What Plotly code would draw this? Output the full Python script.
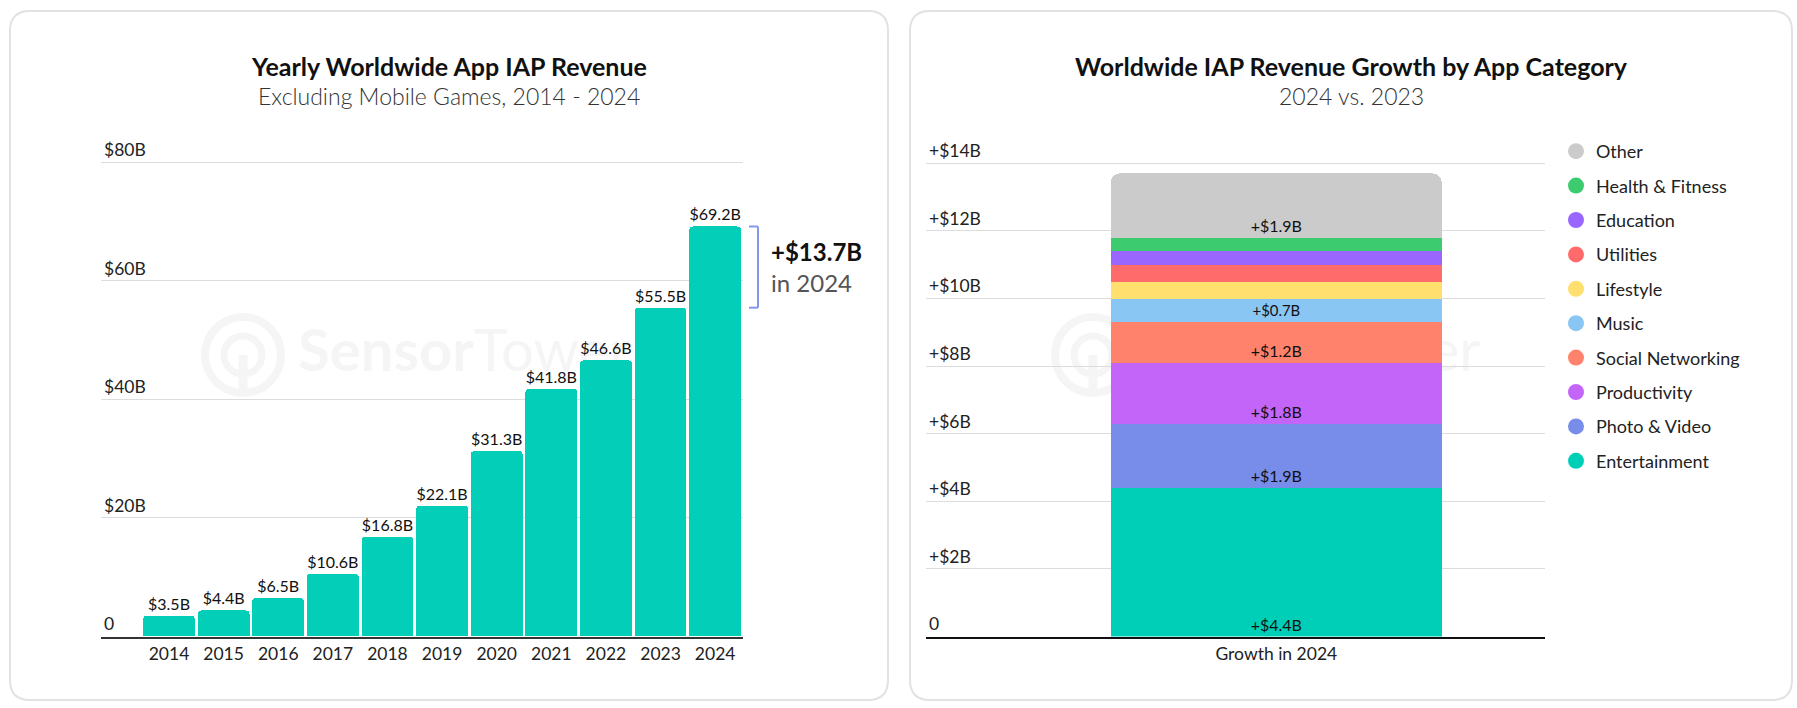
import plotly.graph_objects as go

W, H = 1797, 708
FONT = "Lato"

# ---------------- data ----------------
years = ["2014", "2015", "2016", "2017", "2018", "2019", "2020", "2021", "2022", "2023", "2024"]
revenue = [3.5, 4.4, 6.5, 10.6, 16.8, 22.1, 31.3, 41.8, 46.6, 55.5, 69.2]
left_tickvals = [0, 20, 40, 60, 80]
left_ticktext = ["0", "$20B", "$40B", "$60B", "$80B"]

categories = ["Entertainment", "Photo & Video", "Productivity", "Social Networking", "Music",
              "Lifestyle", "Utilities", "Education", "Health & Fitness", "Other"]
growth = [4.4, 1.9, 1.8, 1.2, 0.7, 0.5, 0.5, 0.4, 0.4, 1.9]
growth_shown = [True, True, True, True, True, False, False, False, False, True]
cat_colors = ["#00CFB8", "#788CE9", "#C465F9", "#FF826C", "#89C6F3",
              "#FFDF6E", "#FF6B6B", "#9966FF", "#3CCB6E", "#CBCBCB"]
right_category = ["Growth in 2024"]
right_tickvals = [0, 2, 4, 6, 8, 10, 12, 14]
right_ticktext = ["0", "+$2B", "+$4B", "+$6B", "+$8B", "+$10B", "+$12B", "+$14B"]


def px(x):
    return x / W


def py(y):
    return 1 - y / H


fig = go.Figure()

# ---------------- watermark (background subplot) ----------------
for tx in (298, 1148):
    fig.add_trace(go.Scatter(
        x=[tx], y=[356], mode="text", text=["<b>Sensor</b>Tower"],
        textposition="middle right", textfont=dict(family=FONT, size=58, color="#F5F5F5"),
        xaxis="x", yaxis="y", showlegend=False, hoverinfo="skip"))

# ---------------- left chart ----------------
fig.add_trace(go.Bar(
    x=years, y=revenue, xaxis="x2", yaxis="y2",
    marker=dict(color="#03CFB9", cornerradius=4, line=dict(width=0)),
    width=0.95,
    text=[f"${v}B" for v in revenue], textposition="outside",
    textfont=dict(family=FONT, size=16, color="#111111"),
    cliponaxis=False, showlegend=False, hoverinfo="skip"))

# ---------------- right chart ----------------
for cat, val, shown, col in zip(categories, growth, growth_shown, cat_colors):
    fig.add_trace(go.Bar(
        x=right_category, y=[val], xaxis="x3", yaxis="y3", name=cat,
        marker=dict(color=col, cornerradius=9, line=dict(width=0)),
        width=0.6,
        text=[f"+${val}B" if shown else ""], textposition="inside",
        insidetextanchor="start", textangle=0,
        insidetextfont=dict(family=FONT, size=16, color="#111111"),
        showlegend=False, hoverinfo="skip"))

# legend entries with round markers (top: Other)
for cat, col in zip(categories[::-1], cat_colors[::-1]):
    fig.add_trace(go.Scatter(
        x=[None], y=[None], mode="markers", name=cat, legendgroup=cat,
        marker=dict(symbol="circle", size=16, color=col),
        xaxis="x3", yaxis="y3", showlegend=True))

# ---------------- panel boxes & logos ----------------
def rounded_rect(x0, y0, x1, y1, r):
    kx, ky = r / W, r / H
    X0, X1, Y0, Y1 = px(x0), px(x1), py(y1), py(y0)  # Y0 bottom, Y1 top
    return (f"M{X0 + kx},{Y1} L{X1 - kx},{Y1} Q{X1},{Y1} {X1},{Y1 - ky} "
            f"L{X1},{Y0 + ky} Q{X1},{Y0} {X1 - kx},{Y0} L{X0 + kx},{Y0} "
            f"Q{X0},{Y0} {X0},{Y0 + ky} L{X0},{Y1 - ky} Q{X0},{Y1} {X0 + kx},{Y1} Z")


shapes = []
for (x0, x1) in ((10, 888), (910, 1792)):
    shapes.append(dict(type="path", path=rounded_rect(x0, 11, x1, 700, 20),
                       xref="paper", yref="paper", line=dict(color="#E2E2E2", width=2),
                       fillcolor="white", layer="below"))

for cx in (243, 1093):
    cy = 355
    shapes.append(dict(type="circle", xref="paper", yref="paper", layer="below",
                       x0=px(cx - 38), x1=px(cx + 38), y0=py(cy + 38), y1=py(cy - 38),
                       line=dict(color="#F5F5F5", width=8)))
    shapes.append(dict(type="circle", xref="paper", yref="paper", layer="below",
                       x0=px(cx - 19), x1=px(cx + 19), y0=py(cy + 19), y1=py(cy - 19),
                       line=dict(color="#F5F5F5", width=7)))
    shapes.append(dict(type="line", xref="paper", yref="paper", layer="below",
                       x0=px(cx), x1=px(cx), y0=py(cy), y1=py(cy + 36),
                       line=dict(color="#F5F5F5", width=9)))

# bracket for 2024 growth
br_top, br_bot = revenue[-1], revenue[-2]
bx_in, bx_out = px(749), px(758)
shapes += [
    dict(type="line", xref="paper", yref="y2", x0=bx_out, x1=bx_out, y0=br_bot, y1=br_top,
         line=dict(color="#8497EE", width=2)),
    dict(type="line", xref="paper", yref="y2", x0=bx_in, x1=bx_out, y0=br_top, y1=br_top,
         line=dict(color="#8497EE", width=2)),
    dict(type="line", xref="paper", yref="y2", x0=bx_in, x1=bx_out, y0=br_bot, y1=br_bot,
         line=dict(color="#8497EE", width=2)),
]

growth_2024 = round(br_top - br_bot, 1)

annotations = [
    dict(text="<b>Yearly Worldwide App IAP Revenue</b>", x=px(449), y=py(66),
         font=dict(family=FONT, size=25, color="#111111")),
    dict(text="Excluding Mobile Games, 2014 - 2024", x=px(449), y=py(96),
         font=dict(family=FONT, size=23, color="#333333", weight=300)),
    dict(text="<b>Worldwide IAP Revenue Growth by App Category</b>", x=px(1351), y=py(66),
         font=dict(family=FONT, size=25, color="#111111")),
    dict(text="2024 vs. 2023", x=px(1351), y=py(96),
         font=dict(family=FONT, size=23, color="#333333", weight=300)),
    dict(text=f"<b>+${growth_2024}B</b><br><span style='color:#555555'>in {years[-1]}</span>",
         x=px(769), xanchor="left", yref="y2", y=(br_top + br_bot) / 2, yanchor="middle",
         align="left", font=dict(family=FONT, size=24, color="#111111")),
]
for a in annotations:
    a.setdefault("xref", "paper")
    a.setdefault("yref", "paper")
    a.setdefault("xanchor", "center")
    a.setdefault("yanchor", "middle")
    a["showarrow"] = False

base0 = 636.5
lppb = 5.925   # px per billion (left)
rppb = 33.8    # px per billion (right)
ltop, rtop = 84.5, 14.75

tickfont = dict(family=FONT, size=17.5, color="#222222")

fig.update_layout(
    width=W, height=H, margin=dict(l=0, r=0, t=0, b=0),
    paper_bgcolor="white", plot_bgcolor="rgba(0,0,0,0)",
    barmode="stack",
    font=dict(family=FONT, color="#222222"),
    xaxis=dict(domain=[0, 1], range=[0, W], visible=False, fixedrange=True),
    yaxis=dict(domain=[0, 1], range=[H, 0], visible=False, fixedrange=True),
    xaxis2=dict(domain=[px(101), px(743)], anchor="y2", type="category",
                range=[-1.245, 10.51], showgrid=False, showline=True,
                linecolor="#333333", linewidth=2.5, ticks="",
                tickfont=dict(family=FONT, size=17.5, color="#222222")),
    yaxis2=dict(domain=[py(base0), py(base0 - ltop * lppb)], anchor="x2", range=[0, ltop],
                tickvals=left_tickvals, ticktext=left_ticktext, ticklabelposition="inside top",
                showgrid=True, gridcolor="#DCDCDC", gridwidth=1, zeroline=False,
                showline=False, ticks="", tickfont=tickfont),
    xaxis3=dict(domain=[px(926), px(1545)], anchor="y3", type="category",
                range=[-0.635, 0.487], showgrid=False, showline=True,
                linecolor="#111111", linewidth=2.5, ticks="",
                tickfont=dict(family=FONT, size=17.5, color="#222222")),
    yaxis3=dict(domain=[py(base0), py(base0 - rtop * rppb)], anchor="x3", range=[0, rtop],
                tickvals=right_tickvals, ticktext=right_ticktext, ticklabelposition="inside top",
                showgrid=True, gridcolor="#DCDCDC", gridwidth=1, zeroline=False,
                showline=False, ticks="", tickfont=tickfont),
    legend=dict(x=px(1556), y=py(133), xanchor="left", yanchor="top",
                font=dict(family=FONT, size=18, color="#222222"),
                traceorder="grouped", tracegroupgap=8, bgcolor="rgba(0,0,0,0)",
                itemclick=False, itemdoubleclick=False),
    shapes=shapes,
    annotations=annotations,
    showlegend=True,
)

fig.write_html(
    "out.html",
    config={"displayModeBar": False, "staticPlot": True},
    post_script="document.body.style.margin='0';document.body.style.overflow='hidden';",
)
